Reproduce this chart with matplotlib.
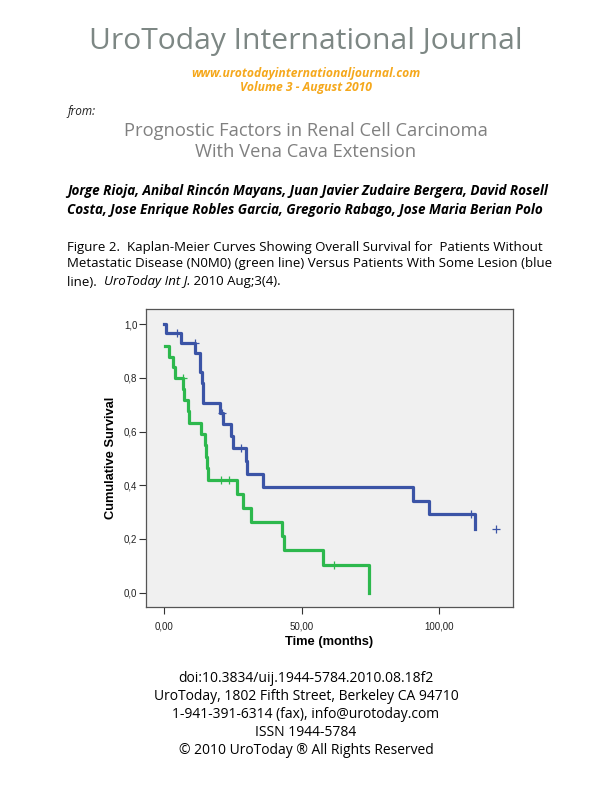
import matplotlib
matplotlib.use('Agg')
from matplotlib import pyplot as plt
from matplotlib.ticker import FuncFormatter

# step points (time in months, cumulative survival)
blue_t = [0, 0.6, 6.0, 11.3, 13.1, 13.7, 14.0, 14.3, 20.5, 21.3, 24.3, 24.9,
          29.6, 30.1, 35.8, 90.4, 96.2, 113.0]
blue_s = [1.0, 0.966, 0.931, 0.893, 0.82, 0.78, 0.745, 0.707, 0.67, 0.628, 0.583, 0.54,
          0.49, 0.442, 0.393, 0.342, 0.294, 0.236]
blue_cens_t = [4.8, 11.2, 20.9, 28.1, 111.5, 120.6]
blue_cens_s = [0.966, 0.931, 0.67, 0.54, 0.294, 0.236]

green_t = [0.4, 1.8, 3.4, 3.9, 7.0, 7.3, 8.7, 9.0, 13.6, 14.9, 15.2, 15.5, 16.1,
           26.6, 28.7, 31.5, 43.0, 43.4, 57.7, 74.4]
green_s = [0.92, 0.878, 0.839, 0.80, 0.76, 0.717, 0.675, 0.633, 0.59, 0.548, 0.505, 0.463, 0.42,
           0.368, 0.315, 0.263, 0.21, 0.158, 0.105, 0.0]
green_cens_t = [7.0, 20.7, 23.7, 61.8]
green_cens_s = [0.80, 0.42, 0.42, 0.105]

x_ticks = [0, 50, 100]
y_ticks = [0.0, 0.2, 0.4, 0.6, 0.8, 1.0]

W, H = 612, 792
fig = plt.figure(figsize=(W / 100, H / 100), dpi=100)


def put(x, y, s, **kw):
    # place text using pixel coords of the page (origin top-left)
    return fig.text(x / W, 1 - y / H, s, **kw)


head = 'Open Sans'
gray = '#7d8784'
orange = '#f5a81c'

put(306, 42, 'UroToday International Journal', ha='center', va='center',
    fontsize=21.6, color=gray, family=head)
put(306, 73, 'www.urotodayinternationaljournal.com', ha='center', va='center',
    fontsize=8.7, color=orange, family=head, weight='bold', style='italic')
put(306, 87, 'Volume 3 - August 2010', ha='center', va='center',
    fontsize=8.7, color=orange, family=head, weight='bold', style='italic')
put(67, 111, 'from:', ha='left', va='center', fontsize=8.5, color='#222222',
    family=head, style='italic')
put(306, 131, 'Prognostic Factors in Renal Cell Carcinoma', ha='center', va='center',
    fontsize=13.2, color='#808080', family=head)
put(306, 152, 'With Vena Cava Extension', ha='center', va='center',
    fontsize=13.2, color='#808080', family=head)

put(67, 191, 'Jorge Rioja, Anibal Rincón Mayans, Juan Javier Zudaire Bergera, David Rosell',
    ha='left', va='center', fontsize=9.75, family=head, weight='bold', style='italic')
put(67, 210, 'Costa, Jose Enrique Robles Garcia, Gregorio Rabago, Jose Maria Berian Polo',
    ha='left', va='center', fontsize=9.75, family=head, weight='bold', style='italic')

cap = 9.55
put(67, 247, 'Figure 2.  Kaplan-Meier Curves Showing Overall Survival for  Patients Without',
    ha='left', va='center', fontsize=cap, family=head)
put(67, 264, 'Metastatic Disease (N0M0) (green line) Versus Patients With Some Lesion (blue',
    ha='left', va='center', fontsize=cap, family=head)

# third caption line: regular / italic / regular pieces side by side
renderer = fig.canvas.get_renderer()
x0 = 67
for piece, st in [('line).  ', 'normal'), ('UroToday Int J.', 'italic'), (' 2010 Aug;3(4).', 'normal')]:
    t = put(x0, 282, piece, ha='left', va='center', fontsize=cap, family=head, style=st)
    x0 += t.get_window_extent(renderer).width

foot = ['doi:10.3834/uij.1944-5784.2010.08.18f2',
        'UroToday, 1802 Fifth Street, Berkeley CA 94710',
        '1-941-391-6314 (fax), info@urotoday.com',
        'ISSN 1944-5784',
        '© 2010 UroToday ® All Rights Reserved']
for i, line in enumerate(foot):
    put(306, 679 + 18 * i, line, ha='center', va='center', fontsize=10, family=head)

# the chart itself
ax = fig.add_axes([145.7 / W, 1 - 606.7 / H, (512.7 - 145.7) / W, (606.7 - 309) / H])
ax.set_facecolor('#f0f0f0')
ax.step(blue_t, blue_s, where='post', color='#3b54a6', lw=2.3)
ax.step(green_t, green_s, where='post', color='#2db84d', lw=2.3)
ax.plot(blue_cens_t, blue_cens_s, '+', color='#3b54a6', ms=6, mew=0.9)
ax.plot(green_cens_t, green_cens_s, '+', color='#2db84d', ms=6, mew=0.9)

ax.set_xlim(-6.65, 126.6)
ax.set_ylim(-0.052, 1.056)
ax.set_xticks(x_ticks)
ax.set_yticks(y_ticks)
ax.xaxis.set_major_formatter(FuncFormatter(lambda v, p: ('%.2f' % v).replace('.', ',')))
ax.yaxis.set_major_formatter(FuncFormatter(lambda v, p: ('%.1f' % v).replace('.', ',')))
for lab in ax.get_xticklabels() + ax.get_yticklabels():
    lab.set_family('Liberation Sans')
    lab.set_fontsize(7)
    lab.set_color('#222222')
ax.tick_params(direction='out', length=5, width=0.8, color='#333333', pad=1)
ax.tick_params(axis='x', pad=6)
for sp in ax.spines.values():
    sp.set_color('#555555')
    sp.set_linewidth(0.9)

ax.set_xlabel('Time (months)', family='Liberation Sans', weight='bold', fontsize=9.3, labelpad=3)
ax.set_ylabel('Cumulative Survival', family='Liberation Sans', weight='bold', fontsize=9.3, labelpad=5)

plt.savefig('out.png', dpi=100)
